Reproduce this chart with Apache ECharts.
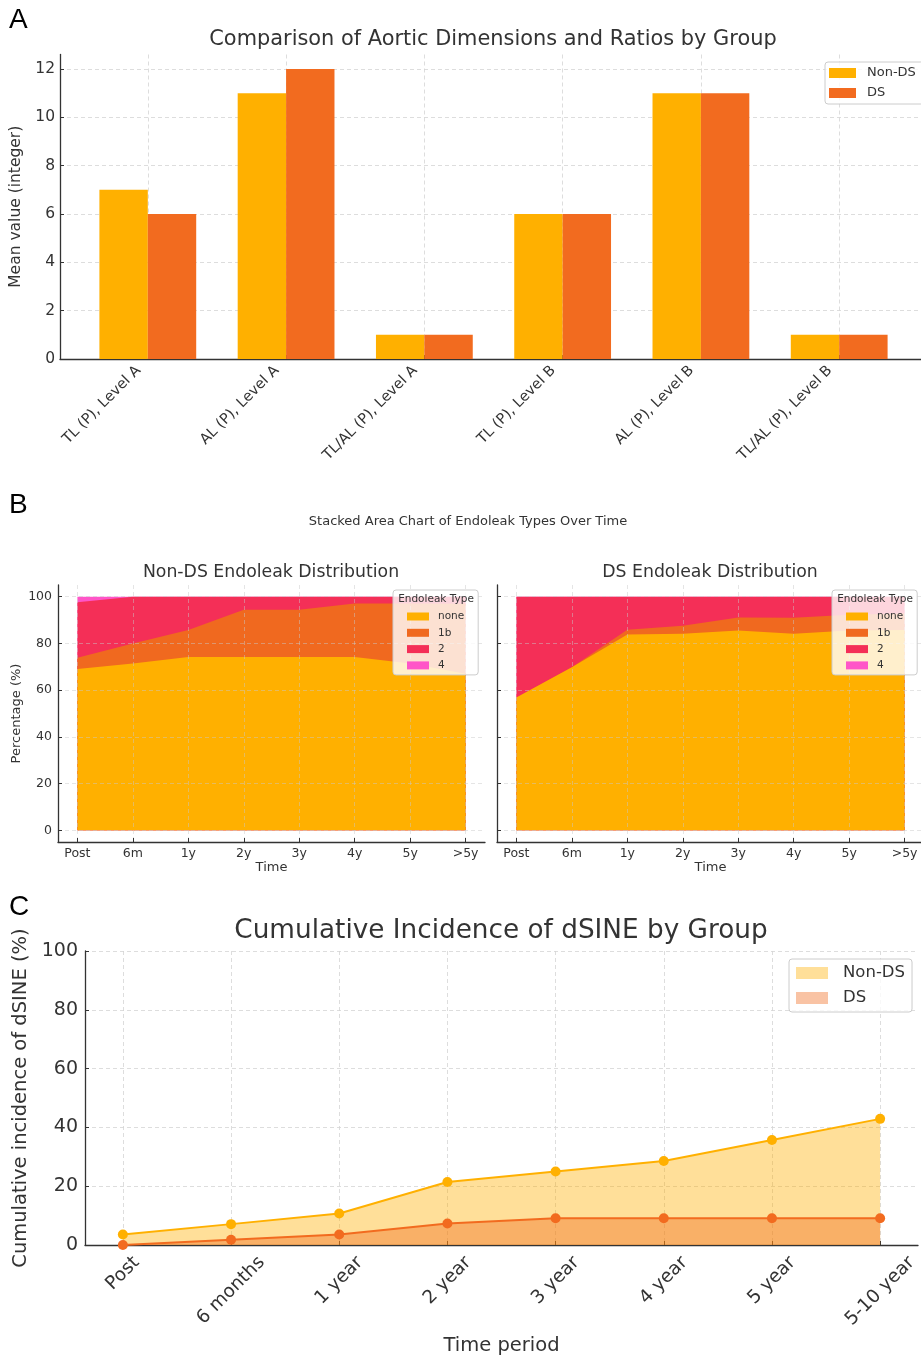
<!DOCTYPE html>
<html><head><meta charset="utf-8">
<script src="https://cdn.jsdelivr.net/npm/echarts@6/dist/echarts.min.js"></script>
<style>html,body{margin:0;padding:0;background:#fff}#c{width:921px;height:1359px}</style>
</head><body><div id="c"></div>
<script>
// ---------- DATA ----------
const catsA = ['TL (P), Level A','AL (P), Level A','TL/AL (P), Level A','TL (P), Level B','AL (P), Level B','TL/AL (P), Level B'];
const nonDsA = [7, 11, 1, 6, 11, 1];
const dsA = [6, 12, 1, 6, 11, 1];
const ticksA = [0, 2, 4, 6, 8, 10, 12];

const timesB = ['Post','6m','1y','2y','3y','4y','5y','>5y'];
const typesB = ['none','1b','2','4'];
const nonDsNone = [69.0, 71.4, 74.2, 74.2, 74.2, 74.2, 71.4, 67.0];
const nonDs1b   = [4.9, 8.6, 11.5, 20.2, 20.2, 22.9, 25.7, 30.0];
const nonDs2    = [23.7, 20.0, 14.3, 5.6, 5.6, 2.9, 2.9, 3.0];
const nonDs4    = [2.4, 0, 0, 0, 0, 0, 0, 0];
const dsNone = [56.8, 69.8, 83.8, 84.1, 85.5, 84.1, 85.5, 85.7];
const ds1b   = [0, 0, 2.0, 3.5, 5.6, 6.9, 6.8, 7.1];
const ds2    = [43.2, 30.2, 14.2, 12.4, 8.9, 9.0, 7.7, 7.2];
const ds4    = [0, 0, 0, 0, 0, 0, 0, 0];
const ticksB = [0, 20, 40, 60, 80, 100];

const timesC = ['Post','6 months','1 year','2 year','3 year','4 year','5 year','5-10 year'];
const nonDsC = [3.6, 7.1, 10.7, 21.4, 25.0, 28.6, 35.7, 42.9];
const dsC = [0, 1.8, 3.6, 7.3, 9.1, 9.1, 9.1, 9.1];

// ---------- STYLE ----------
const F = 'DejaVu Sans';
const TXT = '#333';
const AX = '#333';
const C_NON = '#FFB000';
const C_DS = '#F26B1F';
const colB = ['#FFB000', '#F0691F', '#F42F57', '#FF55C8'];
const gridLine = {show: true, lineStyle: {color: '#d4d4d4', width: 0.8, type: [4, 3]}};
const gridLineB = {show: true, lineStyle: {color: 'rgba(200,200,200,0.6)', width: 0.8, type: [4, 3]}};
const idx = n => Array.from({length: n}, (_, i) => i);
const axLine = {show: true, onZero: false, lineStyle: {color: AX, width: 1.3}};
const tick = vals => ({show: true, inside: true, length: 4, customValues: vals, lineStyle: {color: AX, width: 1}});

// rotated, centered labels for panel C (matplotlib-like ha=center)
const fsC = 18.5;
const ctx = document.createElement('canvas').getContext('2d');
ctx.font = fsC + 'px "DejaVu Sans"';
const richC = {};
timesC.forEach((t, i) => {
  const w = ctx.measureText(t).width;
  const D = 7 + 0.3536 * (w + 1.164 * fsC);
  const p = 1.4142 * D;
  richC['t' + i] = {fontSize: fsC, fontFamily: F, color: TXT, padding: [p, p, 0, 0]};
});

function cum(layers) {
  const out = [];
  let acc = layers[0].map(() => 0);
  layers.forEach(a => { acc = acc.map((s, i) => s + a[i]); out.push(acc.slice()); });
  return out;
}
const cumNon = cum([nonDsNone, nonDs1b, nonDs2, nonDs4]);
const cumDs = cum([dsNone, ds1b, ds2, ds4]);

const series = [];
series.push({type: 'bar', name: 'Non-DS', xAxisIndex: 0, yAxisIndex: 0, data: nonDsA.map((v, i) => [i, v]),
  barWidth: 48.4, barGap: '0%', itemStyle: {color: C_NON}});
series.push({type: 'bar', name: 'DS', xAxisIndex: 0, yAxisIndex: 0, data: dsA.map((v, i) => [i, v]),
  barWidth: 48.4, barGap: '0%', itemStyle: {color: C_DS}});
[[cumNon, 1], [cumDs, 2]].forEach(([cums, g]) => {
  for (let k = 3; k >= 0; k--) {
    series.push({type: 'line', name: typesB[k], xAxisIndex: g, yAxisIndex: g,
      data: cums[k].map((v, i) => [i, v]), symbol: 'none', showSymbol: false,
      lineStyle: {width: 0, color: colB[k]}, itemStyle: {color: colB[k]},
      areaStyle: {color: colB[k], opacity: 1}, z: 4 - k, silent: true});
  }
});
series.push({type: 'line', name: 'Non-DS', xAxisIndex: 3, yAxisIndex: 3, data: nonDsC.map((v, i) => [i, v]),
  symbol: 'circle', symbolSize: 10, showSymbol: true, lineStyle: {width: 2, color: C_NON},
  itemStyle: {color: C_NON}, areaStyle: {color: 'rgba(255,176,0,0.4)', opacity: 1}, z: 3});
series.push({type: 'line', name: 'DS', xAxisIndex: 3, yAxisIndex: 3, data: dsC.map((v, i) => [i, v]),
  symbol: 'circle', symbolSize: 10, showSymbol: true, lineStyle: {width: 2, color: C_DS},
  itemStyle: {color: C_DS}, areaStyle: {color: 'rgba(240,105,27,0.4)', opacity: 1}, z: 4});

function ttl(text, left, top, size, opts) {
  return Object.assign({text, left, top, padding: 0, z: 12,
    textStyle: {fontSize: size, fontWeight: 'normal', color: TXT, fontFamily: F, lineHeight: Math.round(size * 1.2)}}, opts || {});
}

const option = {
  animation: false,
  backgroundColor: '#fff',
  title: [
    ttl('A', 9, 6, 28, {textStyle: {fontSize: 28, color: '#000', fontFamily: 'Liberation Sans', fontWeight: 'normal', lineHeight: 28}}),
    ttl('Comparison of Aortic Dimensions and Ratios by Group', 493, 27, 20.9, {textAlign: 'center'}),
    ttl('B', 9, 491, 28, {textStyle: {fontSize: 28, color: '#000', fontFamily: 'Liberation Sans', fontWeight: 'normal', lineHeight: 28}}),
    ttl('Stacked Area Chart of Endoleak Types Over Time', 468, 514, 13, {textAlign: 'center'}),
    ttl('Non-DS Endoleak Distribution', 271, 562, 17.3, {textAlign: 'center'}),
    ttl('DS Endoleak Distribution', 710, 562, 17.3, {textAlign: 'center'}),
    ttl('Endoleak Type', 436, 593, 10.5, {textAlign: 'center'}),
    ttl('Endoleak Type', 875, 593, 10.5, {textAlign: 'center'}),
    ttl('C', 9, 893, 28, {textStyle: {fontSize: 28, color: '#000', fontFamily: 'Liberation Sans', fontWeight: 'normal', lineHeight: 28}}),
    ttl('Cumulative Incidence of dSINE by Group', 501, 915, 26.3, {textAlign: 'center'})
  ],
  grid: [
    {left: 60, top: 54.5, width: 867, height: 304.5, outerBoundsMode: 'none', containLabel: false},
    {left: 58, top: 585, width: 427, height: 257, outerBoundsMode: 'none', containLabel: false},
    {left: 497, top: 585, width: 427, height: 257, outerBoundsMode: 'none', containLabel: false},
    {left: 85, top: 951, width: 833, height: 294, outerBoundsMode: 'none', containLabel: false}
  ],
  xAxis: [
    {type: 'value', gridIndex: 0, min: -0.635, max: 5.635, axisLine: axLine, axisTick: tick(idx(6)),
      axisLabel: {customValues: idx(6), formatter: v => catsA[Math.round(v)], rotate: 45, margin: 0,
        padding: [9.9, 13.1, 0, 0], fontSize: 14.5, fontFamily: F, color: TXT},
      splitLine: gridLine},
    {type: 'value', gridIndex: 1, min: -0.35, max: 7.35, z: 5, axisLine: axLine, axisTick: tick(idx(8)),
      axisLabel: {customValues: idx(8), formatter: v => timesB[Math.round(v)], margin: 5, fontSize: 12.5, fontFamily: F, color: TXT},
      name: 'Time', nameLocation: 'middle', nameGap: 19, nameTextStyle: {fontSize: 13, fontFamily: F, color: TXT},
      splitLine: gridLineB},
    {type: 'value', gridIndex: 2, min: -0.35, max: 7.35, z: 5, axisLine: axLine, axisTick: tick(idx(8)),
      axisLabel: {customValues: idx(8), formatter: v => timesB[Math.round(v)], margin: 5, fontSize: 12.5, fontFamily: F, color: TXT},
      name: 'Time', nameLocation: 'middle', nameGap: 19, nameTextStyle: {fontSize: 13, fontFamily: F, color: TXT},
      splitLine: gridLineB},
    {type: 'value', gridIndex: 3, min: -0.35, max: 7.35, axisLine: axLine, axisTick: tick(idx(8)),
      axisLabel: {customValues: idx(8), formatter: v => { const i = Math.round(v); return '{t' + i + '|' + timesC[i] + '}'; },
        rotate: 45, align: 'center', verticalAlign: 'middle', margin: 0, fontSize: fsC, fontFamily: F, color: TXT, rich: richC},
      name: 'Time period', nameLocation: 'middle', nameGap: 91, nameTextStyle: {fontSize: 19.5, fontFamily: F, color: TXT},
      splitLine: gridLine}
  ],
  yAxis: [
    {type: 'value', gridIndex: 0, min: 0, max: 12.6, axisLine: axLine, axisTick: tick(ticksA),
      axisLabel: {customValues: ticksA, margin: 5, fontSize: 15.5, fontFamily: F, color: TXT},
      name: 'Mean value (integer)', nameLocation: 'middle', nameGap: 31.5, nameTextStyle: {fontSize: 15.5, fontFamily: F, color: TXT},
      splitLine: gridLine},
    {type: 'value', gridIndex: 1, min: -5, max: 105, z: 5, axisLine: axLine, axisTick: tick(ticksB),
      axisLabel: {customValues: ticksB, margin: 6, fontSize: 12.5, fontFamily: F, color: TXT},
      name: 'Percentage (%)', nameLocation: 'middle', nameGap: 35, nameTextStyle: {fontSize: 13, fontFamily: F, color: TXT},
      splitLine: gridLineB},
    {type: 'value', gridIndex: 2, min: -5, max: 105, z: 5, axisLine: axLine, axisTick: tick(ticksB),
      axisLabel: {show: false, customValues: ticksB}, splitLine: gridLineB},
    {type: 'value', gridIndex: 3, min: 0, max: 100, interval: 20, axisLine: axLine,
      axisTick: {show: true, inside: true, length: 4, lineStyle: {color: AX}},
      axisLabel: {margin: 7, fontSize: 19, fontFamily: F, color: TXT},
      name: 'Cumulative incidence of dSINE (%)', nameLocation: 'middle', nameGap: 51, nameTextStyle: {fontSize: 19.5, fontFamily: F, color: TXT},
      splitLine: gridLine}
  ],
  legend: [
    {left: 825, top: 62, orient: 'vertical', selectedMode: false, z: 10,
      data: [{name: 'Non-DS', icon: 'rect', itemStyle: {color: C_NON}}, {name: 'DS', icon: 'rect', itemStyle: {color: C_DS}}],
      itemWidth: 27, itemHeight: 10, itemGap: 4, padding: [3, 8, 3, 4],
      backgroundColor: 'rgba(255,255,255,0.8)', borderColor: '#cccccc', borderWidth: 1, borderRadius: 3,
      textStyle: {fontSize: 13, lineHeight: 16, fontFamily: F, color: TXT, padding: [0, 0, 0, 6]}},
    {left: 393, top: 590, orient: 'vertical', selectedMode: false, z: 10,
      data: typesB.map((t, k) => ({name: t, icon: 'rect', itemStyle: {color: colB[k]}})),
      itemWidth: 22, itemHeight: 8, itemGap: 3.3, padding: [20, 14, 3, 14],
      backgroundColor: 'rgba(255,255,255,0.8)', borderColor: '#cccccc', borderWidth: 1, borderRadius: 3,
      textStyle: {fontSize: 10.5, lineHeight: 13, fontFamily: F, color: TXT, padding: [0, 0, 0, 4]}},
    {left: 832, top: 590, orient: 'vertical', selectedMode: false, z: 10,
      data: typesB.map((t, k) => ({name: t, icon: 'rect', itemStyle: {color: colB[k]}})),
      itemWidth: 22, itemHeight: 8, itemGap: 3.3, padding: [20, 14, 3, 14],
      backgroundColor: 'rgba(255,255,255,0.8)', borderColor: '#cccccc', borderWidth: 1, borderRadius: 3,
      textStyle: {fontSize: 10.5, lineHeight: 13, fontFamily: F, color: TXT, padding: [0, 0, 0, 4]}},
    {left: 789, top: 959, orient: 'vertical', selectedMode: false, z: 10,
      data: [{name: 'Non-DS', icon: 'rect', itemStyle: {color: 'rgba(255,176,0,0.4)'}},
             {name: 'DS', icon: 'rect', itemStyle: {color: 'rgba(240,105,27,0.4)'}}],
      itemWidth: 32, itemHeight: 12, itemGap: 7, padding: [5, 7, 5, 7],
      backgroundColor: 'rgba(255,255,255,0.8)', borderColor: '#cccccc', borderWidth: 1, borderRadius: 3,
      textStyle: {fontSize: 16.5, lineHeight: 18, fontFamily: F, color: TXT, padding: [0, 0, 0, 10]}}
  ],
  series: series
};

const chart = echarts.init(document.getElementById('c'), null, {renderer: 'canvas', width: 921, height: 1359});
chart.setOption(option);
</script>
</body></html>
